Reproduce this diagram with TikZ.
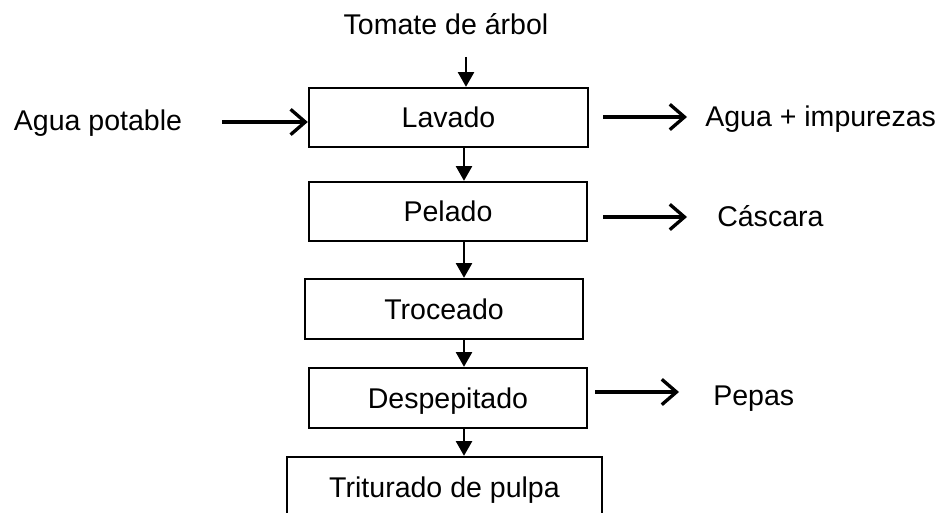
\documentclass[tikz,border=0pt]{standalone}
\usepackage{fontspec}
\setmainfont{Liberation Sans}
\usetikzlibrary{arrows.meta}
\begin{document}
\begin{tikzpicture}[x=0.75pt,y=-0.75pt,
  txt/.style={font=\fontsize{21.4}{25}\selectfont},
  procbox/.style={txt, draw, line width=1.8pt, rectangle, minimum width=#1*0.75pt,
    minimum height=59*0.75pt, inner sep=0pt, text height=15pt, text depth=0pt},
  procbox/.default=278,
  lbl/.style={txt, inner sep=0pt},
  varrow/.style={line width=1.7pt, -{Triangle[length=11pt,width=12pt]}},
  harrow/.style={line width=2.5pt, -{Straight Barb[length=11pt,width=19pt]}}
]
\useasboundingbox (0,0) rectangle (945,513);
\clip (0,0) rectangle (945,513);

% process boxes
\node[procbox=279] (lav) at (448.5,117.5) {Lavado};
\node[procbox=278] (pel) at (448,211.5) {Pelado};
\node[procbox=278, minimum height=60*0.75pt] (tro) at (444,309) {Troceado};
\node[procbox=278, minimum height=60*0.75pt] (des) at (448,398) {Despepitado};
\node[procbox=315, minimum height=60*0.75pt] (tri) at (444.5,487) {Triturado de pulpa};

% main vertical flow
\coordinate (ax) at (464,0);
\node[lbl, anchor=base] (tom) at (446,35) {Tomate de árbol};
\coordinate (t0) at (466,57);
\draw[varrow] (t0) -- (t0 |- lav.north);
\draw[varrow] (lav.south -| ax) -- (pel.north -| ax);
\draw[varrow] (pel.south -| ax) -- (tro.north -| ax);
\draw[varrow] (tro.south -| ax) -- (des.north -| ax);
\draw[varrow] (des.south -| ax) -- (tri.north -| ax);

% input water
\node[lbl, anchor=base] (agp) at (98,131) {Agua potable};
\coordinate (l0) at (222,122);
\draw[harrow] (l0) -- (l0 -| lav.west);

% outputs
\coordinate (r1s) at (603,117);
\coordinate (r1e) at (687,117);
\draw[harrow] (r1s) -- (r1e);
\node[lbl, anchor=base west] (imp) at (705,127) {Agua + impurezas};

\coordinate (r2s) at (603,217);
\coordinate (r2e) at (687,217);
\draw[harrow] (r2s) -- (r2e);
\node[lbl, anchor=base west] (cas) at (717,227) {Cáscara};

\coordinate (r3s) at (595,392);
\coordinate (r3e) at (679,392);
\draw[harrow] (r3s) -- (r3e);
\node[lbl, anchor=base west] (pep) at (713,405) {Pepas};
\end{tikzpicture}
\end{document}
